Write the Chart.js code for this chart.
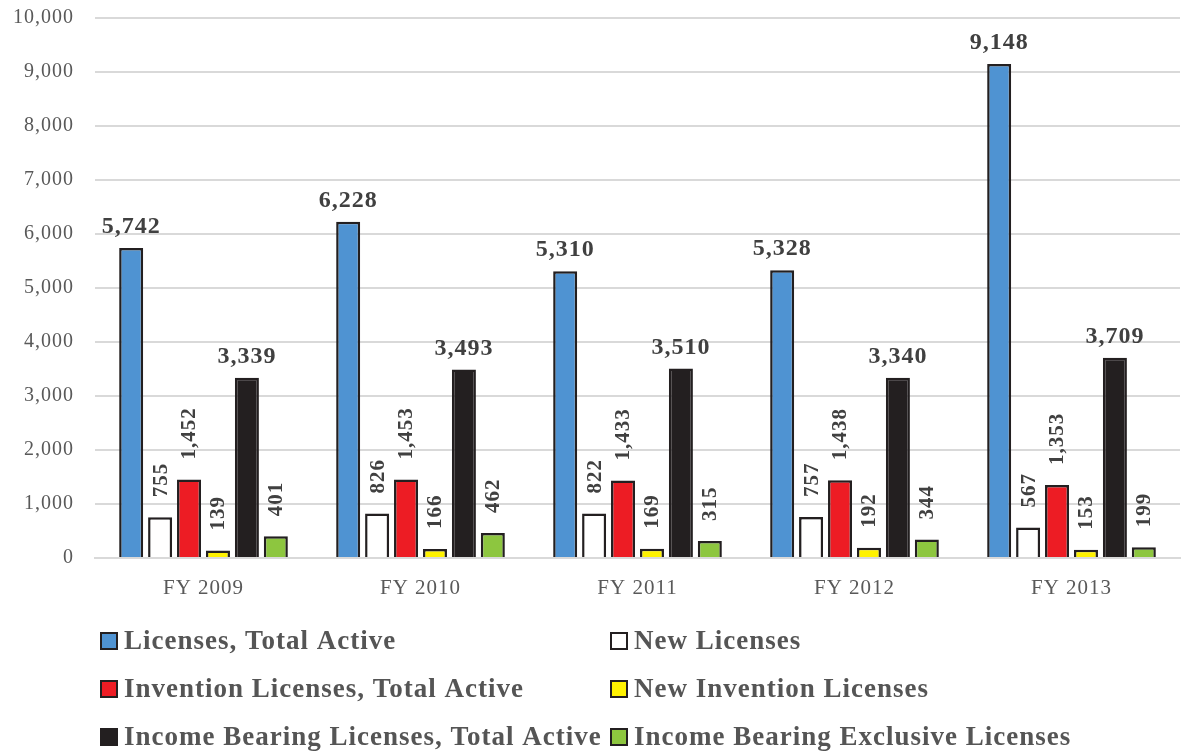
<!DOCTYPE html>
<html>
<head>
<meta charset="utf-8">
<script src="https://cdn.jsdelivr.net/npm/chart.js@4.4.1/dist/chart.umd.min.js"></script>
<style>
  html, body { margin: 0; padding: 0; background: #ffffff; }
  #wrap { position: relative; width: 1186px; height: 753px; }
</style>
</head>
<body>
<div id="wrap"><canvas id="c" width="1186" height="753"></canvas></div>
<script>
const categories = ['FY 2009', 'FY 2010', 'FY 2011', 'FY 2012', 'FY 2013'];
const seriesNames = [
  'Licenses, Total Active',
  'New Licenses',
  'Invention Licenses, Total Active',
  'New Invention Licenses',
  'Income Bearing Licenses, Total Active',
  'Income Bearing Exclusive Licenses'
];
const licensesTotalActive = [5742, 6228, 5310, 5328, 9148];
const newLicenses = [755, 826, 822, 757, 567];
const inventionTotalActive = [1452, 1453, 1433, 1438, 1353];
const newInventionLicenses = [139, 166, 169, 192, 153];
const incomeBearingTotalActive = [3339, 3493, 3510, 3340, 3709];
const incomeBearingExclusive = [401, 462, 315, 344, 199];
const yTickValues = [0, 1000, 2000, 3000, 4000, 5000, 6000, 7000, 8000, 9000, 10000];

const seriesColors = ['#4F93D2', '#FFFFFF', '#ED1C24', '#FFF200', '#231F20', '#8DC63F'];
const rotatedLabel = [false, true, true, true, false, true];
const seriesData = [licensesTotalActive, newLicenses, inventionTotalActive,
  newInventionLicenses, incomeBearingTotalActive, incomeBearingExclusive];

const fmt = v => v.toLocaleString('en-US');

const spacing = {
  id: 'spacing',
  beforeDraw(chart) {
    if ('letterSpacing' in chart.ctx) chart.ctx.letterSpacing = '1px';
  }
};

const valueLabels = {
  id: 'valueLabels',
  afterDatasetsDraw(chart) {
    const ctx = chart.ctx;
    chart.data.datasets.forEach((ds, di) => {
      const meta = chart.getDatasetMeta(di);
      meta.data.forEach((bar, i) => {
        const txt = fmt(ds.data[i]);
        ctx.save();
        if ('letterSpacing' in ctx) ctx.letterSpacing = '1px';
        ctx.fillStyle = '#404040';
        if (rotatedLabel[di]) {
          ctx.font = 'bold 21px "Liberation Serif", serif';
          ctx.translate(bar.x, bar.y - 20);
          ctx.rotate(-Math.PI / 2);
          ctx.textAlign = 'left';
          ctx.textBaseline = 'middle';
          ctx.fillText(txt, 0, 1);
        } else {
          ctx.font = 'bold 24px "Liberation Serif", serif';
          ctx.textAlign = 'center';
          ctx.textBaseline = 'middle';
          ctx.fillText(txt, bar.x, bar.y - 21);
        }
        ctx.restore();
      });
    });
  }
};

const gridLegend = {
  id: 'gridLegend',
  afterDraw(chart) {
    const ctx = chart.ctx;
    const colX = [101, 611];
    const rowY = [641, 689, 737];
    chart.data.datasets.forEach((ds, di) => {
      const col = di % 2, row = Math.floor(di / 2);
      const x = colX[col], y = rowY[row];
      ctx.save();
      ctx.fillStyle = ds.backgroundColor;
      ctx.fillRect(x, y - 8, 16, 16);
      ctx.lineWidth = 2;
      ctx.strokeStyle = '#231F20';
      ctx.strokeRect(x, y - 8, 16, 16);
      if ('letterSpacing' in ctx) ctx.letterSpacing = '1px';
      ctx.fillStyle = '#555555';
      ctx.font = 'bold 27px "Liberation Serif", serif';
      ctx.textAlign = 'left';
      ctx.textBaseline = 'middle';
      ctx.fillText(ds.label, x + 23, y + 1);
      ctx.restore();
    });
  }
};

new Chart(document.getElementById('c'), {
  type: 'bar',
  data: {
    labels: categories,
    datasets: seriesNames.map((name, i) => ({
      label: name,
      data: seriesData[i],
      backgroundColor: seriesColors[i],
      borderColor: '#231F20',
      borderWidth: 2.5,
      categoryPercentage: 0.8,
      barPercentage: 0.83
    }))
  },
  options: {
    responsive: false,
    animation: false,
    devicePixelRatio: 1,
    layout: { padding: { top: 18, right: 6, bottom: 153, left: 0 } },
    plugins: {
      legend: { display: false },
      tooltip: { enabled: false }
    },
    scales: {
      x: {
        grid: { display: false, drawTicks: false },
        border: { display: true, color: '#d9d9d9', width: 2 },
        ticks: {
          color: '#595959',
          font: { family: '"Liberation Serif", serif', size: 21 },
          padding: 18
        },
        afterFit(scale) { scale.height = 42; scale.paddingLeft = 0; scale.paddingRight = 0; }
      },
      y: {
        min: 0,
        max: 10000,
        afterBuildTicks(scale) { scale.ticks = yTickValues.map(v => ({ value: v })); },
        grid: { color: '#d9d9d9', lineWidth: 2, drawTicks: false },
        border: { display: false },
        ticks: {
          color: '#595959',
          font: { family: '"Liberation Serif", serif', size: 20 },
          padding: 21,
          callback: v => fmt(v)
        },
        afterFit(scale) { scale.width = 95; scale.paddingTop = 0; scale.paddingBottom = 0; }
      }
    }
  },
  plugins: [spacing, valueLabels, gridLegend]
});
</script>
</body>
</html>
